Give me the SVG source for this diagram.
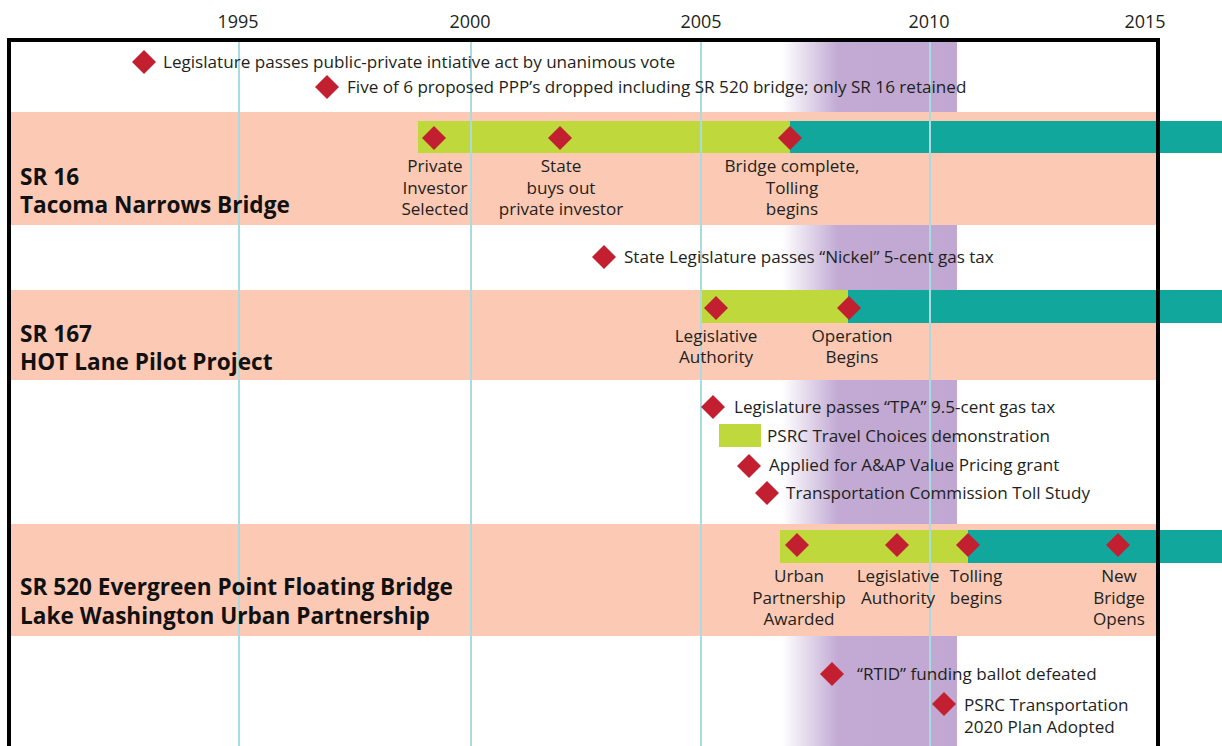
<svg xmlns="http://www.w3.org/2000/svg" width="1222" height="746" viewBox="0 0 1222 746">
  <defs>
    <linearGradient id="bandFade" x1="782" y1="0" x2="957" y2="0" gradientUnits="userSpaceOnUse">
      <stop offset="0" stop-color="#ffffff"/>
      <stop offset="0.32" stop-color="#c2aad4"/>
      <stop offset="1" stop-color="#c0a8d2"/>
    </linearGradient>
    <path id="dia" d="M0,-12 L12,0 L0,12 L-12,0 Z"/>
    <style>
      .yr { font-family: "Open Sans", "Liberation Sans", sans-serif; font-size: 18px; fill: #231f20; text-anchor: middle; }
      .lbl { font-family: "Open Sans", "Liberation Sans", sans-serif; font-size: 17.1px; fill: #231f20; }
      .mid { text-anchor: middle; }
      .ttl { font-family: "Open Sans", "Liberation Sans", sans-serif; font-size: 22.6px; font-weight: bold; fill: #111111; }
      .band { fill: #fbc9b4; }
      .grn { fill: #bfd83c; }
      .teal { fill: #12a79c; }
      .grid { stroke: #a9dbe0; stroke-width: 2; fill: none; }
      .mk { fill: #c21f30; }
    </style>
  </defs>

  <rect width="1222" height="746" fill="#ffffff"/>

  <!-- year axis -->
  <g id="axis">
    <text class="yr" x="238" y="28">1995</text>
    <text class="yr" x="470" y="28">2000</text>
    <text class="yr" x="701" y="28">2005</text>
    <text class="yr" x="929" y="28">2010</text>
    <text class="yr" x="1145" y="28">2015</text>
  </g>

  <!-- highlighted period 2007-2011 -->
  <rect id="period" x="782" y="42" width="175" height="704" fill="url(#bandFade)"/>

  <!-- project rows -->
  <g id="rows">
    <rect class="band" x="11" y="112" width="1147" height="113"/>
    <rect class="band" x="11" y="290" width="1147" height="90"/>
    <rect class="band" x="11" y="524" width="1147" height="112"/>
  </g>

  <!-- phase bars -->
  <g id="bars">
    <rect class="grn" x="418" y="121" width="372" height="32"/>
    <rect class="teal" x="790" y="121" width="432" height="32"/>
    <rect class="grn" x="701" y="290" width="147" height="33"/>
    <rect class="teal" x="848" y="290" width="374" height="33"/>
    <rect class="grn" x="780" y="530" width="188" height="33"/>
    <rect class="teal" x="968" y="530" width="254" height="33"/>
  </g>

  <!-- year grid -->
  <g id="grid">
    <line class="grid" x1="239" y1="42" x2="239" y2="746"/>
    <line class="grid" x1="471" y1="42" x2="471" y2="746"/>
    <line class="grid" x1="701" y1="42" x2="701" y2="746"/>
    <line class="grid" x1="930" y1="42" x2="930" y2="746"/>
  </g>

  <!-- frame -->
  <rect id="frame" x="9" y="40" width="1149" height="720" fill="none" stroke="#000000" stroke-width="4"/>

  <!-- general events -->
  <g id="ev-ppp-act">
    <use href="#dia" class="mk" x="144" y="62"/>
    <text class="lbl" x="163" y="68">Legislature passes public-private intiative act by unanimous vote</text>
  </g>
  <g id="ev-ppp-dropped">
    <use href="#dia" class="mk" x="327" y="87"/>
    <text class="lbl" x="347" y="93">Five of 6 proposed PPP’s dropped including SR 520 bridge; only SR 16 retained</text>
  </g>

  <!-- SR 16 -->
  <g id="sr16">
    <text class="ttl" x="20" y="185">SR 16</text>
    <text class="ttl" x="20" y="213">Tacoma Narrows Bridge</text>
    <use href="#dia" class="mk" x="434" y="138"/>
    <text class="lbl mid" x="435" y="172">Private</text>
    <text class="lbl mid" x="435" y="194">Investor</text>
    <text class="lbl mid" x="435" y="215">Selected</text>
    <use href="#dia" class="mk" x="560" y="138"/>
    <text class="lbl mid" x="561" y="172">State</text>
    <text class="lbl mid" x="561" y="194">buys out</text>
    <text class="lbl mid" x="561" y="215">private investor</text>
    <use href="#dia" class="mk" x="790" y="138"/>
    <text class="lbl mid" x="792" y="172">Bridge complete,</text>
    <text class="lbl mid" x="792" y="194">Tolling</text>
    <text class="lbl mid" x="792" y="215">begins</text>
  </g>

  <g id="ev-nickel">
    <use href="#dia" class="mk" x="604" y="257"/>
    <text class="lbl" x="624" y="263">State Legislature passes “Nickel” 5-cent gas tax</text>
  </g>

  <!-- SR 167 -->
  <g id="sr167">
    <text class="ttl" x="20" y="342">SR 167</text>
    <text class="ttl" x="20" y="370">HOT Lane Pilot Project</text>
    <use href="#dia" class="mk" x="716" y="308"/>
    <text class="lbl mid" x="716" y="342">Legislative</text>
    <text class="lbl mid" x="716" y="363">Authority</text>
    <use href="#dia" class="mk" x="849" y="308"/>
    <text class="lbl mid" x="852" y="342">Operation</text>
    <text class="lbl mid" x="852" y="363">Begins</text>
  </g>

  <g id="ev-tpa">
    <use href="#dia" class="mk" x="713" y="407"/>
    <text class="lbl" x="734" y="413">Legislature passes “TPA” 9.5-cent gas tax</text>
  </g>
  <g id="ev-travel-choices">
    <rect class="grn" x="719" y="424" width="42" height="23"/>
    <text class="lbl" x="767" y="442">PSRC Travel Choices demonstration</text>
  </g>
  <g id="ev-value-pricing">
    <use href="#dia" class="mk" x="749" y="466"/>
    <text class="lbl" x="769" y="471">Applied for A&amp;AP Value Pricing grant</text>
  </g>
  <g id="ev-toll-study">
    <use href="#dia" class="mk" x="767" y="493"/>
    <text class="lbl" x="786" y="499">Transportation Commission Toll Study</text>
  </g>

  <!-- SR 520 -->
  <g id="sr520">
    <text class="ttl" x="20" y="595">SR 520 Evergreen Point Floating Bridge</text>
    <text class="ttl" x="20" y="624">Lake Washington Urban Partnership</text>
    <use href="#dia" class="mk" x="797" y="545"/>
    <text class="lbl mid" x="799" y="582">Urban</text>
    <text class="lbl mid" x="799" y="604">Partnership</text>
    <text class="lbl mid" x="799" y="625">Awarded</text>
    <use href="#dia" class="mk" x="897" y="545"/>
    <text class="lbl mid" x="898" y="582">Legislative</text>
    <text class="lbl mid" x="898" y="604">Authority</text>
    <use href="#dia" class="mk" x="968" y="545"/>
    <text class="lbl mid" x="976" y="582">Tolling</text>
    <text class="lbl mid" x="976" y="604">begins</text>
    <use href="#dia" class="mk" x="1118" y="545"/>
    <text class="lbl mid" x="1119" y="582">New</text>
    <text class="lbl mid" x="1119" y="604">Bridge</text>
    <text class="lbl mid" x="1119" y="625">Opens</text>
  </g>

  <g id="ev-rtid">
    <use href="#dia" class="mk" x="832" y="674"/>
    <text class="lbl" x="857" y="680">“RTID” funding ballot defeated</text>
  </g>
  <g id="ev-psrc-2020">
    <use href="#dia" class="mk" x="944" y="704"/>
    <text class="lbl" x="964" y="711">PSRC Transportation</text>
    <text class="lbl" x="964" y="733">2020 Plan Adopted</text>
  </g>
</svg>
